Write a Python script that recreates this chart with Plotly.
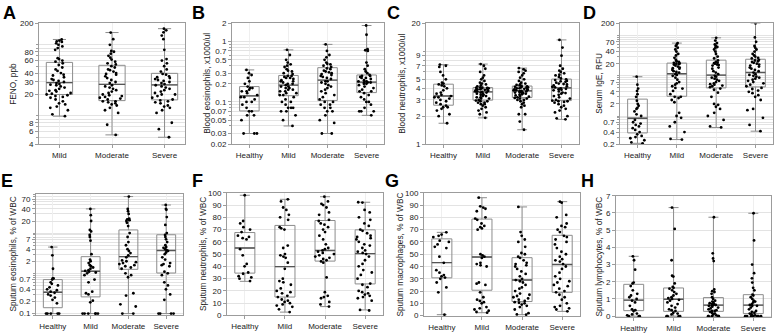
import math
import plotly.graph_objects as go

W, H = 778, 336
FONT = "Arial, 'Liberation Sans', Helvetica, sans-serif"

cats3 = ["Mild", "Moderate", "Severe"]
cats4 = ["Healthy", "Mild", "Moderate", "Severe"]

# ---------------- A: FENO, ppb ----------------
A_q1 = [20, 16.4, 16.8]
A_med = [29.4, 27.8, 27.3]
A_q3 = [56.6, 51.5, 39.7]
A_min = [9.9, 5.4, 5]
A_max = [119, 149, 169]
A_mild = [9.9, 10.5, 12, 13, 13.5, 14.5, 15, 16, 17, 18, 18.5, 19, 19.5, 20, 20.5, 21, 22, 22.5, 23, 24, 25, 26,
          27, 27.5, 28, 29, 30, 31, 32, 33, 35, 37, 38, 40, 43, 45, 48, 52, 55, 58, 60, 63, 65, 85, 90, 95, 100,
          105, 110, 112, 115, 119]
A_moderate = [5.4, 7.5, 11, 12, 13, 14, 14.5, 15, 15.5, 16, 16, 17, 17.5, 18, 18.5, 19, 19.5, 20, 21, 22, 23, 24,
              25, 26, 27, 29, 30, 32, 34, 36, 38, 39, 40, 42, 44, 45, 48, 50, 53, 55, 58, 62, 66, 70, 75, 80, 82,
              100, 120, 149]
A_severe = [5, 6.5, 8, 11, 12, 13, 13.5, 14, 15, 15.5, 16, 16.5, 17, 18, 19, 20, 20, 21, 22, 23, 24, 25, 26, 27,
            28, 29, 30, 31, 32, 33, 34, 35, 36, 38, 39, 42, 45, 50, 55, 60, 63, 85, 120, 135, 150, 160, 169]
A_ticks = [4, 6, 8, 20, 30, 40, 60, 80, 200]

# ---------------- B: Blood eosinophils ----------------
B_q1 = [0.071, 0.127, 0.106, 0.143]
B_med = [0.126, 0.19, 0.23, 0.213]
B_q3 = [0.18, 0.275, 0.37, 0.28]
B_min = [0.03, 0.04, 0.03, 0.06]
B_max = [0.34, 0.73, 0.9, 1.85]
B_healthy = [0.03, 0.03, 0.03, 0.05, 0.06, 0.06, 0.07, 0.07, 0.08, 0.09, 0.1, 0.1, 0.11, 0.12, 0.12, 0.13, 0.14,
             0.15, 0.15, 0.16, 0.17, 0.17, 0.18, 0.2, 0.22, 0.25, 0.28, 0.3, 0.34]
B_mild = [0.04, 0.05, 0.06, 0.07, 0.07, 0.08, 0.08, 0.08, 0.09, 0.1, 0.1, 0.11, 0.12, 0.13, 0.13, 0.14, 0.14,
          0.15, 0.15, 0.16, 0.16, 0.17, 0.17, 0.18, 0.18, 0.19, 0.2, 0.2, 0.21, 0.22, 0.22, 0.23, 0.24, 0.25,
          0.25, 0.26, 0.27, 0.27, 0.29, 0.3, 0.32, 0.33, 0.35, 0.38, 0.4, 0.42, 0.45, 0.5, 0.6, 0.73]
B_moderate = [0.03, 0.03, 0.045, 0.05, 0.06, 0.07, 0.07, 0.08, 0.08, 0.09, 0.09, 0.1, 0.1, 0.11, 0.12, 0.13, 0.14,
              0.15, 0.16, 0.17, 0.18, 0.19, 0.2, 0.21, 0.22, 0.22, 0.24, 0.25, 0.26, 0.27, 0.28, 0.29, 0.3, 0.31,
              0.32, 0.33, 0.35, 0.36, 0.38, 0.4, 0.42, 0.43, 0.45, 0.5, 0.55, 0.6, 0.7, 0.9]
B_severe = [0.06, 0.07, 0.07, 0.07, 0.08, 0.09, 0.1, 0.1, 0.11, 0.12, 0.13, 0.14, 0.15, 0.15, 0.16, 0.17, 0.18,
            0.19, 0.2, 0.2, 0.21, 0.21, 0.21, 0.22, 0.22, 0.23, 0.24, 0.25, 0.25, 0.26, 0.27, 0.27, 0.28, 0.3,
            0.32, 0.35, 0.4, 0.45, 0.7, 0.72, 0.75, 1.3, 1.85]
B_ticks = [0.02, 0.03, 0.05, 0.07, 0.1, 0.2, 0.3, 0.5, 0.7, 1, 2]

# ---------------- C: Blood neutrophils ----------------
C_q1 = [2.63, 2.98, 3.18, 2.95]
C_med = [3.3, 3.66, 3.75, 4.04]
C_q3 = [4.43, 4.07, 4.23, 5.03]
C_min = [1.68, 1.92, 1.43, 1.85]
C_max = [7.2, 7.3, 6.6, 13.3]
C_healthy = [1.68, 2.0, 2.1, 2.3, 2.4, 2.5, 2.5, 2.6, 2.7, 2.8, 2.9, 3.0, 3.1, 3.2, 3.2, 3.3, 3.4, 3.5, 3.6, 3.8,
             4.0, 4.2, 4.3, 4.4, 4.5, 4.6, 5.0, 5.5, 6.0, 6.8, 7.0, 7.2]
C_mild = [1.92, 2.1, 2.2, 2.3, 2.4, 2.5, 2.6, 2.7, 2.7, 2.8, 2.8, 2.9, 2.9, 2.95, 3.0, 3.1, 3.1, 3.2, 3.2, 3.3,
          3.3, 3.4, 3.4, 3.5, 3.5, 3.6, 3.6, 3.65, 3.7, 3.7, 3.75, 3.8, 3.8, 3.85, 3.9, 3.9, 3.95, 4.0, 4.0, 4.05,
          4.05, 4.06, 4.1, 4.2, 4.3, 4.4, 4.5, 4.6, 4.8, 5.0, 5.2, 5.5, 6.0, 6.5, 7.0, 7.3]
C_moderate = [1.43, 1.75, 2.1, 2.1, 2.5, 2.6, 2.7, 2.8, 2.9, 3.0, 3.0, 3.1, 3.1, 3.15, 3.2, 3.25, 3.3, 3.35, 3.4,
              3.45, 3.5, 3.55, 3.6, 3.6, 3.65, 3.7, 3.7, 3.74, 3.8, 3.8, 3.85, 3.9, 3.9, 3.95, 4.0, 4.0, 4.05,
              4.1, 4.1, 4.15, 4.2, 4.22, 4.3, 4.35, 4.4, 4.5, 4.6, 4.8, 5.0, 5.2, 5.5, 5.8, 6.0, 6.2, 6.4, 6.6]
C_severe = [1.85, 1.9, 2.0, 2.2, 2.3, 2.4, 2.5, 2.6, 2.7, 2.8, 2.85, 2.9, 2.9, 2.94, 3.0, 3.1, 3.2, 3.3, 3.4,
            3.5, 3.55, 3.6, 3.7, 3.8, 3.85, 3.9, 3.95, 4.0, 4.1, 4.15, 4.2, 4.3, 4.4, 4.45, 4.5, 4.6, 4.7, 4.75,
            4.8, 4.9, 5.0, 5.1, 5.3, 5.5, 5.6, 5.8, 6.0, 6.2, 6.5, 7.0, 9.0, 11.0, 13.3]
C_ticks = [1, 2, 3, 4, 5, 7, 9, 20]

# ---------------- D: Serum IgE ----------------
D_q1 = [0.38, 3.1, 5.0, 5.3]
D_med = [0.88, 11.2, 10.4, 12.1]
D_q3 = [2.63, 20.7, 24.5, 25.8]
D_min = [0.21, 0.26, 0.52, 0.42]
D_max = [9.5, 65, 88, 200]
D_healthy = [0.21, 0.22, 0.25, 0.28, 0.3, 0.32, 0.35, 0.4, 0.45, 0.5, 0.55, 0.6, 0.65, 0.7, 0.8, 1.0, 1.1, 1.3,
             1.5, 1.6, 1.8, 2.0, 2.4, 3.0, 3.5, 4.2, 4.8, 6.0, 9.5]
D_mild = [0.26, 0.27, 0.4, 0.55, 0.7, 0.9, 1.0, 1.2, 2.2, 2.5, 2.8, 3.0, 3.0, 3.5, 4.2, 4.8, 5.0, 5.5, 6.0, 6.5,
          7.0, 8.0, 9.0, 10, 10.5, 11, 12, 12.5, 13, 14, 15, 15.5, 16, 17, 18, 19, 19.5, 20, 20.5, 21, 22, 23,
          25, 28, 32, 35, 40, 45, 50, 55, 60, 65]
D_moderate = [0.52, 0.55, 0.8, 1.0, 1.2, 1.5, 1.7, 1.9, 2.0, 3.0, 3.8, 4.5, 4.8, 5.2, 5.5, 5.7, 6.0, 6.2, 6.5, 7,
              7.5, 8, 8.5, 9, 9.5, 10, 11, 12, 13, 15, 16, 18, 18.5, 19, 20, 20.5, 21, 22, 24, 27, 30, 35, 40,
              45, 50, 52, 55, 60, 65, 75, 88]
D_severe = [0.42, 0.6, 0.9, 1.4, 1.5, 2.5, 3.0, 3.3, 3.7, 4.0, 4.3, 4.7, 5.0, 5.5, 6.0, 6.5, 7, 7.5, 8, 8.5, 9,
            9.5, 10, 10.5, 11, 12, 13, 14, 15, 16, 17, 18, 19, 20, 21, 22, 23, 24, 25, 27, 28, 30, 32, 35, 40,
            45, 50, 55, 70, 90, 200]
D_ticks = [0.2, 0.4, 0.7, 2, 4, 7, 20, 40, 70, 200]

# ---------------- E: Sputum eosinophils ----------------
E_q1 = [0.14, 0.26, 1.26, 1.02]
E_med = [0.34, 1.13, 2.6, 3.7]
E_q3 = [0.7, 2.6, 12, 9.1]
E_min = [0.1, 0.1, 0.1, 0.1]
E_max = [4.5, 40, 81, 50]
E_healthy = [0.1, 0.1, 0.1, 0.1, 0.1, 0.18, 0.22, 0.25, 0.28, 0.3, 0.33, 0.35, 0.38, 0.4, 0.45, 0.5, 0.55, 0.6,
             0.7, 0.75, 0.75, 1.3, 2.8, 4.5]
E_mild = [0.1, 0.1, 0.1, 0.1, 0.1, 0.1, 0.19, 0.21, 0.3, 0.32, 0.35, 0.6, 0.7, 0.9, 1.0, 1.05, 1.1, 1.15, 1.2,
          1.3, 1.4, 1.5, 1.6, 1.8, 2.0, 2.2, 3.0, 6.5, 8, 9, 11, 12, 20, 28, 40]
E_moderate = [0.1, 0.1, 0.15, 0.17, 0.28, 0.32, 0.8, 0.9, 1.0, 1.3, 1.4, 1.5, 1.6, 1.7, 1.8, 1.9, 2.0, 2.1, 2.5,
              2.8, 3.2, 3.6, 4.0, 5.0, 6.0, 8.0, 10, 15, 18, 20, 21, 22, 23, 30, 35, 40, 81]
E_severe = [0.1, 0.1, 0.1, 0.1, 0.22, 0.3, 0.4, 0.5, 0.6, 0.9, 1.0, 1.1, 1.5, 1.6, 1.7, 1.8, 2.2, 2.5, 3.0, 3.3,
            3.6, 3.8, 4.0, 4.3, 4.5, 5, 6, 7, 8, 9, 10, 16, 25, 38, 40, 50]
E_ticks = [0.1, 0.2, 0.4, 0.7, 2, 4, 7, 20, 40, 70]

# ---------------- F: Sputum neutrophils ----------------
F_q1 = [34.5, 15, 44.3, 25.7]
F_med = [55, 39.8, 53, 50.4]
F_q3 = [67.6, 73.4, 77.4, 69.8]
F_min = [27.8, 2.7, 7.2, 4.5]
F_max = [98, 94.7, 96.8, 92.3]
F_healthy = [28, 30, 31, 32, 34, 35, 40, 42, 49, 54, 62, 63, 64, 65, 68, 70, 72, 75, 77, 98]
F_mild = [2.7, 5, 7, 8, 9, 10, 11, 12, 13, 15, 16, 18, 19, 20, 22, 25, 27, 28, 30, 38, 43, 47, 48, 49, 50, 55,
          57, 70, 71, 72, 78, 80, 82, 86, 88, 93, 94.7]
F_moderate = [7.2, 9, 11, 14, 15, 16, 19, 31, 43, 44, 45, 46, 47, 48, 49, 50, 51, 52, 53, 54, 55, 58, 62, 65, 68,
              70, 72, 74, 75, 77, 78, 82, 84, 88, 90, 91, 93, 96.8]
F_severe = [4, 4.5, 12, 14, 15, 16, 17, 18, 19, 20, 23, 25, 26, 30, 33, 35, 37, 40, 42, 45, 48, 50, 51, 52, 53,
            55, 57, 58, 60, 62, 63, 64, 65, 67, 69, 70, 73, 75, 78, 80, 84, 86, 92, 92.3]
F_ticks = [0, 10, 20, 30, 40, 50, 60, 70, 80, 90, 100]

# ---------------- G: Sputum macrophages ----------------
G_q1 = [30.8, 20.7, 11.5, 19]
G_med = [43.2, 47.7, 29, 41.6]
G_q3 = [62.5, 78.6, 47.2, 65.4]
G_min = [0.8, 2.4, 0.8, 3.5]
G_max = [67.8, 96, 88.5, 92.8]
G_healthy = [0.8, 19, 23, 27, 30, 31, 32, 33, 35, 37, 43, 48, 55, 56, 58, 60, 61, 64, 65, 66, 67.8]
G_mild = [2.4, 3, 4, 5, 6, 7, 10, 11, 12, 13, 15, 19, 25, 26, 27, 40, 41, 42, 43, 47, 48, 49, 50, 70, 71, 72, 73,
          75, 78, 79, 80, 85, 87, 88, 89, 96]
G_moderate = [0.8, 1, 2, 5, 7, 8, 9, 10, 10.5, 11, 12, 13, 14, 15, 16, 17, 18, 20, 22, 23, 25, 27, 28, 29, 30, 32,
              34, 36, 38, 40, 41, 42, 43, 45, 47, 48, 50, 51, 56, 60, 62, 65, 68, 88.5]
G_severe = [3.5, 5, 6, 7, 8, 10, 13, 15, 17, 19, 20, 22, 24, 25, 27, 28, 30, 32, 35, 38, 40, 42, 44, 45, 46, 48,
            50, 52, 55, 58, 60, 62, 64, 65, 68, 70, 72, 73, 75, 80, 82, 92, 92.8]
G_ticks = [0, 10, 20, 30, 40, 50, 60, 70, 80, 90, 100]

# ---------------- H: Sputum lymphocytes ----------------
H_q1 = [0.32, 0.28, 0.28, 0.15]
H_med = [0.93, 0.98, 0.64, 0.64]
H_q3 = [1.85, 1.64, 1.08, 1.25]
H_min = [0, 0, 0, 0]
H_max = [3.48, 6.31, 5.75, 5.98]
H_healthy = [0, 0, 0, 0.05, 0.1, 0.15, 0.3, 0.35, 0.4, 0.6, 0.8, 0.9, 1.0, 1.1, 1.2, 1.3, 1.5, 1.75, 1.9, 1.95,
             2.7, 3.25, 3.48]
H_mild = [0, 0, 0, 0, 0.1, 0.15, 0.2, 0.3, 0.35, 0.4, 0.5, 0.6, 0.7, 0.8, 0.9, 0.95, 1.0, 1.05, 1.1, 1.2, 1.3,
          1.4, 1.5, 1.6, 1.65, 1.7, 1.9, 2.3, 2.35, 3.25, 5.07, 6.31]
H_moderate = [0, 0, 0, 0, 0, 0.05, 0.1, 0.15, 0.2, 0.25, 0.3, 0.3, 0.35, 0.4, 0.45, 0.5, 0.55, 0.6, 0.6, 0.65,
              0.65, 0.7, 0.7, 0.75, 0.8, 0.85, 0.9, 1.0, 1.1, 1.3, 1.4, 1.45, 1.55, 3.2, 3.35, 3.65, 5.75]
H_severe = [0, 0, 0, 0, 0, 0, 0, 0.05, 0.1, 0.15, 0.2, 0.25, 0.3, 0.4, 0.5, 0.6, 0.6, 0.65, 0.7, 0.8, 0.85, 0.9,
            1.0, 1.1, 1.2, 1.25, 1.5, 1.65, 1.95, 2.2, 2.5, 3.0, 4.4, 5.98]
H_ticks = [0, 1, 2, 3, 4, 5, 6, 7]

# ---------------- panel layout (pixels) ----------------
panels = [
    dict(letter="A", cats=cats3, pts=[A_mild, A_moderate, A_severe], q1=A_q1, med=A_med, q3=A_q3, lo=A_min,
         hi=A_max, ticks=A_ticks, log=True, rng=(4, 200), title="FENO, ppb",
         box=(39, 185, 20, 144), let=(9, 9.5), tx=13),
    dict(letter="B", cats=cats4, pts=[B_healthy, B_mild, B_moderate, B_severe], q1=B_q1, med=B_med, q3=B_q3,
         lo=B_min, hi=B_max, ticks=B_ticks, log=True, rng=(0.02, 2), title="Blood eosinophils, x1000/ul",
         box=(232, 384, 20, 144), let=(199, 9.5), tx=207),
    dict(letter="C", cats=cats4, pts=[C_healthy, C_mild, C_moderate, C_severe], q1=C_q1, med=C_med, q3=C_q3,
         lo=C_min, hi=C_max, ticks=C_ticks, log=True, rng=(1, 20), title="Blood neutrophils, x1000/ul",
         box=(426, 579, 20, 144), let=(393, 9.5), tx=402),
    dict(letter="D", cats=cats4, pts=[D_healthy, D_mild, D_moderate, D_severe], q1=D_q1, med=D_med, q3=D_q3,
         lo=D_min, hi=D_max, ticks=D_ticks, log=True, rng=(0.2, 200), title="Serum IgE, RFU",
         box=(620, 773, 20, 144), let=(589, 9.5), tx=599),
    dict(letter="E", cats=cats4, pts=[E_healthy, E_mild, E_moderate, E_severe], q1=E_q1, med=E_med, q3=E_q3,
         lo=E_min, hi=E_max, ticks=E_ticks, log=True, rng=(0.09, 95), title="Sputum eosinophils, % of WBC",
         box=(36, 183, 195, 320), let=(7, 182), tx=13),
    dict(letter="F", cats=cats4, pts=[F_healthy, F_mild, F_moderate, F_severe], q1=F_q1, med=F_med, q3=F_q3,
         lo=F_min, hi=F_max, ticks=F_ticks, log=False, rng=(0, 100), title="Sputum neutrophils, % of WBC",
         box=(227, 383, 194, 320), let=(197, 182), tx=203),
    dict(letter="G", cats=cats4, pts=[G_healthy, G_mild, G_moderate, G_severe], q1=G_q1, med=G_med, q3=G_q3,
         lo=G_min, hi=G_max, ticks=G_ticks, log=False, rng=(-0.6, 100), title="Sputum macrophages, % of WBC",
         box=(424, 580, 194, 321), let=(392, 182), tx=400),
    dict(letter="H", cats=cats4, pts=[H_healthy, H_mild, H_moderate, H_severe], q1=H_q1, med=H_med, q3=H_q3,
         lo=H_min, hi=H_max, ticks=H_ticks, log=False, rng=(-0.07, 7), title="Sputum lymphocytes, % of WBC",
         box=(616, 771, 197, 322), let=(587, 182), tx=599),
]

GRID = "#e3e3e3"
FRAME = "#9c9c9c"
BOXLINE = "#8c8c8c"
MEDLINE = "#555555"
TXT = "#222222"

fig = go.Figure()
annotations = []
layout_axes = {}


def fmt(v):
    return f"{v:g}"


for i, p in enumerate(panels):
    n = i + 1
    xa = "x" if n == 1 else f"x{n}"
    ya = "y" if n == 1 else f"y{n}"
    xkey = "xaxis" if n == 1 else f"xaxis{n}"
    ykey = "yaxis" if n == 1 else f"yaxis{n}"
    x0, x1, y0, y1 = p["box"]

    # boxes (precomputed stats: whiskers min..max)
    fig.add_trace(go.Box(
        x=p["cats"], q1=p["q1"], median=p["med"], q3=p["q3"],
        lowerfence=p["lo"], upperfence=p["hi"],
        boxpoints=False, width=0.5, whiskerwidth=0.5,
        fillcolor="rgba(255,255,255,0)", line=dict(color=BOXLINE, width=1),
        xaxis=xa, yaxis=ya, showlegend=False, hoverinfo="skip"))
    # darker median lines
    fig.add_trace(go.Box(
        x=p["cats"], q1=p["med"], median=p["med"], q3=p["med"],
        lowerfence=p["med"], upperfence=p["med"],
        boxpoints=False, width=0.5, whiskerwidth=0,
        fillcolor="rgba(255,255,255,0)", line=dict(color=MEDLINE, width=1.4),
        xaxis=xa, yaxis=ya, showlegend=False, hoverinfo="skip"))
    # jittered sample points
    for cat, vals in zip(p["cats"], p["pts"]):
        fig.add_trace(go.Box(
            x=[cat] * len(vals), y=vals,
            boxpoints="all", jitter=1.0, pointpos=0, width=0.5, whiskerwidth=0,
            fillcolor="rgba(0,0,0,0)", line=dict(width=0, color="rgba(0,0,0,0)"),
            marker=dict(color="black", size=2.8),
            xaxis=xa, yaxis=ya, showlegend=False, hoverinfo="y"))

    lo, hi = p["rng"]
    if p["log"]:
        minor_vals = [k * 10 ** e for e in range(-3, 4) for k in range(1, 10)]
        minor_vals = [v for v in minor_vals if lo * 0.999 <= v <= hi * 1.001 and v not in p["ticks"]]
        yax = dict(type="log", range=[math.log10(lo), math.log10(hi)],
                   tickmode="array", tickvals=p["ticks"], ticktext=[fmt(v) for v in p["ticks"]],
                   minor=dict(tickmode="array", tickvals=minor_vals, showgrid=True, gridcolor=GRID,
                              gridwidth=1, ticks="outside", ticklen=2, tickcolor=FRAME))
    else:
        yax = dict(type="linear", range=list(p["rng"]), tickmode="array", tickvals=p["ticks"],
                   ticktext=[fmt(v) for v in p["ticks"]])
    yax.update(domain=[1 - y1 / H, 1 - y0 / H], anchor=xa, showgrid=True, gridcolor=GRID, gridwidth=1,
               zeroline=False, showline=True, linecolor=FRAME, linewidth=1, mirror=True,
               ticks="outside", ticklen=3, tickcolor=FRAME,
               tickfont=dict(family=FONT, size=8, color=TXT))
    xax = dict(domain=[x0 / W, x1 / W], anchor=ya, type="category", categoryorder="array",
               categoryarray=p["cats"], showgrid=True, gridcolor="#efefef", zeroline=False,
               showline=True, linecolor=FRAME, linewidth=1, mirror=True,
               ticks="outside", ticklen=3, tickcolor=FRAME,
               tickfont=dict(family=FONT, size=8, color=TXT))
    layout_axes[xkey] = xax
    layout_axes[ykey] = yax

    annotations.append(dict(text=f"<b>{p['letter']}</b>", x=p["let"][0] / W, y=1 - p["let"][1] / H,
                            xref="paper", yref="paper", xanchor="center", yanchor="middle",
                            showarrow=False, font=dict(family=FONT, size=18, color="black")))
    annotations.append(dict(text=p["title"], x=p["tx"] / W, y=1 - ((y0 + y1) / 2) / H,
                            xref="paper", yref="paper", xanchor="center", yanchor="middle",
                            textangle=-90, showarrow=False,
                            font=dict(family=FONT, size=8.3, color=TXT)))

fig.update_layout(
    width=W, height=H, autosize=False,
    margin=dict(l=0, r=0, t=0, b=0),
    paper_bgcolor="white", plot_bgcolor="white",
    showlegend=False, boxmode="overlay",
    annotations=annotations,
    **layout_axes,
)

fig.write_html("out.html", config={"displayModeBar": False})

# remove the browser's default page margin so the figure sits at (0, 0)
with open("out.html", "r", encoding="utf-8") as fh:
    html = fh.read()
html = html.replace("<head>", "<head><style>html,body{margin:0;padding:0;overflow:hidden;}</style>", 1)
with open("out.html", "w", encoding="utf-8") as fh:
    fh.write(html)
